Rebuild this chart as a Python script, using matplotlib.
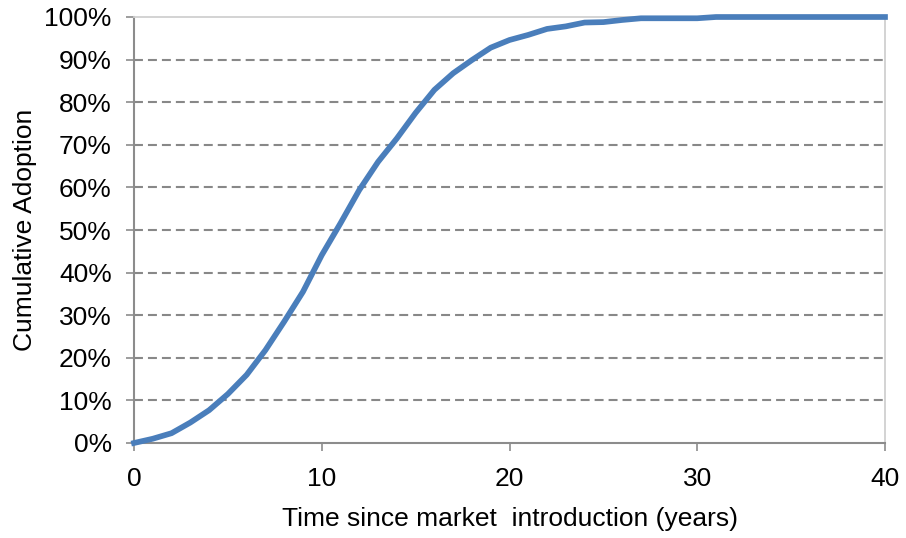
import matplotlib
matplotlib.use("Agg")
import matplotlib.pyplot as plt
from matplotlib.ticker import FuncFormatter

years = list(range(0, 41))
adoption = [0.0, 1.0, 2.3, 4.8, 7.7, 11.5, 16.0, 21.8, 28.5, 35.5,
            44.1, 51.6, 59.4, 66.0, 71.5, 77.5, 82.9, 86.8, 89.9, 92.8,
            94.6, 95.8, 97.2, 97.8, 98.7, 98.8, 99.3, 99.7, 99.7, 99.7,
            99.7, 100.0, 100.0, 100.0, 100.0, 100.0, 100.0, 100.0, 100.0, 100.0, 100.0]
x_ticks = [0, 10, 20, 30, 40]
y_ticks = [0, 10, 20, 30, 40, 50, 60, 70, 80, 90, 100]
x_label = "Time since market  introduction (years)"
y_label = "Cumulative Adoption"

plt.rcParams['font.family'] = ['Liberation Sans', 'DejaVu Sans']
fig = plt.figure(figsize=(9.06, 5.38), dpi=100)
ax = fig.add_axes([134/906, 1-443/538, (885-134)/906, (443-17)/538])

for v in y_ticks[1:-1]:
    ax.axhline(v, color='#888888', linestyle=(0, (4.3, 2.4)), linewidth=1.5, zorder=1)

ax.plot(years, adoption, color='#4a7ebb', linewidth=4.1, solid_joinstyle='round', zorder=3, clip_on=False)

ax.set_xlim(0, 40)
ax.set_ylim(0, 100)
ax.set_xticks(x_ticks)
ax.set_yticks(y_ticks)
ax.yaxis.set_major_formatter(FuncFormatter(lambda v, p: f"{int(v)}%"))
ax.tick_params(axis='both', labelsize=19, colors='#000000', direction='out', length=6, width=1.2)
ax.tick_params(axis='both', color='#8c8c8c')
ax.tick_params(axis='x', pad=11)
ax.tick_params(axis='y', pad=10)

for s in ['left', 'bottom']:
    ax.spines[s].set_color('#8c8c8c')
    ax.spines[s].set_linewidth(1.5)
for s in ['top', 'right']:
    ax.spines[s].set_color('#d0d0d0')
    ax.spines[s].set_linewidth(1.3)

ax.set_xlabel(x_label, fontsize=19, labelpad=12)
ax.set_ylabel(y_label, fontsize=19, labelpad=5)

fig.savefig("out.png", dpi=100)
